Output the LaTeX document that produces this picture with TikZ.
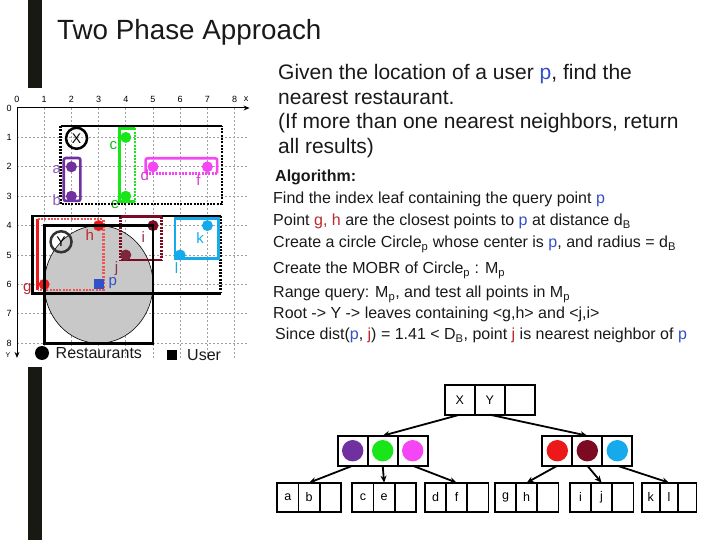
\documentclass[tikz,border=0pt]{standalone}
\usepackage{fontspec}
\setmainfont{Liberation Sans}
\usetikzlibrary{positioning,arrows.meta}
\definecolor{barblack}{RGB}{25,25,20}
\definecolor{txtdark}{RGB}{25,25,25}
\definecolor{ptpurple}{RGB}{112,48,160}
\definecolor{ptgreen}{RGB}{25,230,25}
\definecolor{ptmagenta}{RGB}{245,70,245}
\definecolor{ptred}{RGB}{235,25,25}
\definecolor{ptmaroon}{RGB}{125,10,35}
\definecolor{ptcyan}{RGB}{20,170,235}
\definecolor{userblue}{RGB}{50,80,200}
\definecolor{txtred}{RGB}{190,40,40}
\definecolor{gridgray}{RGB}{160,160,160}
\definecolor{circlegray}{RGB}{200,200,200}
\begin{document}
\begin{tikzpicture}[x=1pt, y=-1pt,
  gridline/.style={gridgray, line width=0.8pt, dash pattern=on 2pt off 2pt},
  axisline/.style={black, line width=1pt, -{Stealth[length=6pt,width=5pt]}},
  axlabel/.style={inner sep=0pt, font=\fontsize{9}{9}\selectfont},
  mbrsolid/.style={line width=2.6pt},
  mbrdots/.style={line width=2.6pt, dash pattern=on 2pt off 1.3pt},
  resto/.style={circle, inner sep=0pt, minimum size=11pt},
  ptlabel/.style={inner sep=0pt, font=\fontsize{15}{15}\selectfont},
  cell/.style={draw, line width=1.8pt, inner sep=0pt, outer sep=0pt, minimum width=30pt, minimum height=30pt, font=\fontsize{12.5}{12.5}\selectfont},
  leafcell/.style={cell, minimum width=21.2pt, minimum height=29pt},
  treearrow/.style={line width=1.8pt, -{Stealth[length=7pt,width=6pt]}},
  intro/.style={anchor=base west, inner sep=0pt, text=txtdark, font=\fontsize{21}{24}\selectfont},
  alg/.style={anchor=base west, inner sep=0pt, text=txtdark, font=\fontsize{16}{18}\selectfont}]
  \useasboundingbox (0,0) rectangle (720,540);
  \fill[barblack] (28,0) rectangle (42,88);
  \fill[barblack] (28,367) rectangle (42,540);
  \node[anchor=base west, inner sep=0pt, text=txtdark, font=\fontsize{27.8}{30}\selectfont] (title) at (57,39.3) {Two Phase Approach};

  % the map of restaurants
  \begin{scope}[shift={(17,108)}, x=27.2pt, y=-29.4pt]
    \foreach \i in {1,...,8} {
      \draw[gridline] (\i,0) -- (\i,8.5);
      \draw[gridline] (0,\i) -- (8.5,\i);
    }
    \draw[axisline] (0,0) -- (8.55,0);
    \draw[axisline] (0,0) -- (0,8.5);
    \foreach \i in {0,...,8} {
      \node[axlabel] (xt\i) at (\i,-0.28) {\i};
      \node[axlabel] (yt\i) at (-0.29,\i) {\i};
    }
    \node[axlabel] (xname) at (8.42,-0.3) {x};
    \node[axlabel, font=\fontsize{7}{7}\selectfont] (yname) at (-0.33,8.42) {Y};
    \node[ptlabel, text=ptgreen!80!black] (le) at (3.6,3.3) {e};
    \fill[circlegray] (3,6) ellipse [x radius=54.4pt, y radius=58.8pt];
    \draw[line width=0.6pt] (3,6) ellipse [x radius=54.4pt, y radius=58.8pt];
    % node X and its leaves
    \draw[mbrsolid] (1.6,0.61) -- (7.53,0.61);
    \draw[mbrdots] (1.6,0.61) -- (1.6,3.27) -- (7.53,3.27) -- (7.53,0.61);
    \draw[ptpurple, mbrsolid, rounded corners=2pt] (1.72,1.7) rectangle (2.33,3.16);
    \draw[ptgreen, mbrsolid] (4.34,0.69) -- (3.76,0.69) -- (3.76,3.19) -- (4.34,3.19);
    \draw[ptgreen, mbrdots] (4.34,0.69) -- (4.34,3.19);
    \draw[ptmagenta, mbrsolid, rounded corners=2pt] (4.73,2.22) -- (4.73,1.71) -- (7.36,1.71) -- (7.36,2.22);
    \draw[ptmagenta, mbrdots] (4.73,2.22) -- (7.36,2.22);
    % node Y and its leaves
    \draw[mbrsolid] (7.49,3.67) -- (0.56,3.67) -- (0.56,6.3) -- (7.49,6.3);
    \draw[mbrdots] (7.49,3.67) -- (7.49,6.3);
    \draw[ptred, mbrsolid] (0.76,3.78) -- (0.76,6.19);
    \draw[ptred!75, mbrdots] (0.76,3.78) -- (3.17,3.78) -- (3.17,6.19) -- (0.76,6.19);
    \draw[ptmaroon, mbrsolid] (3.81,3.7) -- (5.32,3.7);
    \draw[ptmaroon, mbrsolid] (3.81,5.17) -- (5.32,5.17);
    \draw[ptmaroon, mbrdots] (3.81,3.7) -- (3.81,5.17);
    \draw[ptmaroon, mbrdots] (5.32,3.7) -- (5.32,5.17);
    \draw[ptcyan, mbrsolid] (5.81,3.75) rectangle (7.4,5.11);
    % restaurants
    \node[resto, fill=ptpurple] (a) at (2,2) {};
    \node[resto, fill=ptpurple] (b) at (2,3) {};
    \node[resto, fill=ptgreen] (c) at (4,1) {};
    \node[resto, fill=ptgreen] (e) at (4,3) {};
    \node[resto, fill=ptmagenta] (d) at (5,2) {};
    \node[resto, fill=ptmagenta] (f) at (7,2) {};
    \node[resto, fill=ptred] (g) at (1,6) {};
    \node[resto, fill=ptred] (h) at (3,4) {};
    \node[resto, fill=ptmaroon] (i) at (5,4) {};
    \node[resto, fill=ptmaroon!75!gray] (j) at (4,5) {};
    \node[resto, fill=ptcyan] (k) at (7,4) {};
    \node[resto, fill=ptcyan] (l) at (6,5) {};
    \node[ptlabel, text=ptpurple!80] (la) at (1.46,2.1) {a};
    \node[ptlabel, text=ptpurple!80] (lb) at (1.46,3.13) {b};
    \node[ptlabel, text=ptgreen!80!black] (lc) at (3.54,1.26) {c};
    \node[ptlabel, text=ptmagenta!85!black] (ld) at (4.7,2.28) {d};
    \node[ptlabel, text=ptmagenta!85!black] (lf) at (6.67,2.45) {f};
    \node[ptlabel, text=txtred] (lg) at (0.38,6.17) {g};
    \node[ptlabel, text=txtred] (lh) at (2.68,4.32) {h};
    \node[ptlabel, text=ptmaroon!85] (li) at (4.64,4.38) {i};
    \node[ptlabel, text=ptmaroon!85] (lj) at (3.66,5.45) {j};
    \node[ptlabel, text=ptcyan] (lk) at (6.73,4.43) {k};
    \node[ptlabel, text=ptcyan] (ll) at (5.87,5.45) {l};
    \node[draw, circle, line width=2.5pt, minimum size=21pt, inner sep=0pt, font=\fontsize{14}{14}\selectfont] (nx) at (2.19,1.03) {X};
    \node[draw=black!80, circle, line width=2.5pt, minimum size=21pt, inner sep=0pt, font=\fontsize{14}{14}\selectfont] (ny) at (1.62,4.55) {Y};
    % MOBR of the circle
    \draw[mbrsolid] (1,4) rectangle (5,8);
    \node[fill=userblue, minimum size=10pt, inner sep=0pt] (p) at (3,6) {};
    \node[ptlabel, text=userblue] (lp) at (3.52,5.96) {p};
  \end{scope}
  \node[resto, fill=black, minimum size=14pt] (legdot) at (42,353) {};
  \node[anchor=west, inner sep=0pt, text=txtdark, font=\fontsize{16}{16}\selectfont] (legrest) at (55.5,353) {Restaurants};
  \node[fill=black, minimum size=10pt, inner sep=0pt] (legsq) at (172,354.5) {};
  \node[anchor=west, inner sep=0pt, text=txtdark, font=\fontsize{16}{16}\selectfont] (leguser) at (187,355) {User};

  \node[intro] (intro1) at (278,80) {Given the location of a user \textcolor{userblue}{p}, find the};
  \node[intro] (intro2) at (278,104.5) {nearest restaurant.};
  \node[intro] (intro3) at (278,129) {(If more than one nearest neighbors, return};
  \node[intro] (intro4) at (278,153.5) {all results)};

  \node[alg] (alg0) at (275,182) {\bfseries Algorithm:};
  \node[alg] (alg1) at (273,204) {Find the index leaf containing the query point \textcolor{userblue}{p}};
  \node[alg] (alg2) at (273,225.5) {Point \textcolor{txtred}{g, h} are the closest points to \textcolor{userblue}{p} at distance d\textsubscript{B}};
  \node[alg] (alg3) at (273,247.5) {Create a circle Circle\textsubscript{p} whose center is \textcolor{userblue}{p}, and radius = d\textsubscript{B}};
  \node[alg] (alg4) at (273,273.5) {Create the MOBR of Circle\textsubscript{p} : M\textsubscript{p}};
  \node[alg] (alg5) at (273,297.5) {Range query: M\textsubscript{p}, and test all points in M\textsubscript{p}};
  \node[alg] (alg6) at (273,318) {Root -> Y -> leaves containing <g,h> and <j,i>};
  \node[alg] (alg7) at (275,339.5) {Since dist(\textcolor{userblue}{p}, \textcolor{txtred}{j}) = 1.41 < D\textsubscript{B}, point \textcolor{txtred}{j} is nearest neighbor of \textcolor{userblue}{p}};

  % the R-tree
  \node[cell] (rx) at (459.8,399.7) {X};
  \node[cell, right=0pt of rx] (ry) {Y};
  \node[cell, right=0pt of ry] (rz) {};
  \node[cell] (lc1) at (352.7,450.7) {};
  \node[cell, right=0pt of lc1] (lc2) {};
  \node[cell, right=0pt of lc2] (lc3) {};
  \node[cell] (rc1) at (557.3,450.7) {};
  \node[cell, right=0pt of rc1] (rc2) {};
  \node[cell, right=0pt of rc2] (rc3) {};
  \fill[ptpurple] (lc1) circle (10.7pt);
  \fill[ptgreen] (lc2) circle (10.7pt);
  \fill[ptmagenta] (lc3) circle (10.7pt);
  \fill[ptred] (rc1) circle (10.7pt);
  \fill[ptmaroon] (rc2) circle (10.7pt);
  \fill[ptcyan] (rc3) circle (10.7pt);
  \foreach \nm/\x/\u/\v in {ab/287.9/a/b, ce/362.9/c/e, df/435.5/d/f, gh/505.5/g/h, ij/580.4/i/j} {
    \node[leafcell] (\nm1) at (\x,497.2) {\u};
    \node[leafcell, right=0pt of \nm1] (\nm2) {\v};
    \node[leafcell, right=0pt of \nm2] (\nm3) {};
  }
  \node[leafcell, minimum width=18.3pt] (kl1) at (650.8,497.2) {k};
  \node[leafcell, minimum width=18.3pt, right=0pt of kl1] (kl2) {l};
  \node[leafcell, minimum width=18.3pt, right=0pt of kl2] (kl3) {};
  \draw[treearrow] (rx.south) -- (lc2.north);
  \draw[treearrow] (ry.south) -- (rc2.north);
  \draw[treearrow] (lc1.south) -- (ab2.north);
  \draw[treearrow] (lc2.south) -- (ce2.north);
  \draw[treearrow] (lc3.south) -- (df2.north);
  \draw[treearrow] (rc1.south) -- (gh2.north);
  \draw[treearrow] (rc2.south) -- (ij2.north);
  \draw[treearrow] (rc3.south) -- (kl2.north);
\end{tikzpicture}
\end{document}
